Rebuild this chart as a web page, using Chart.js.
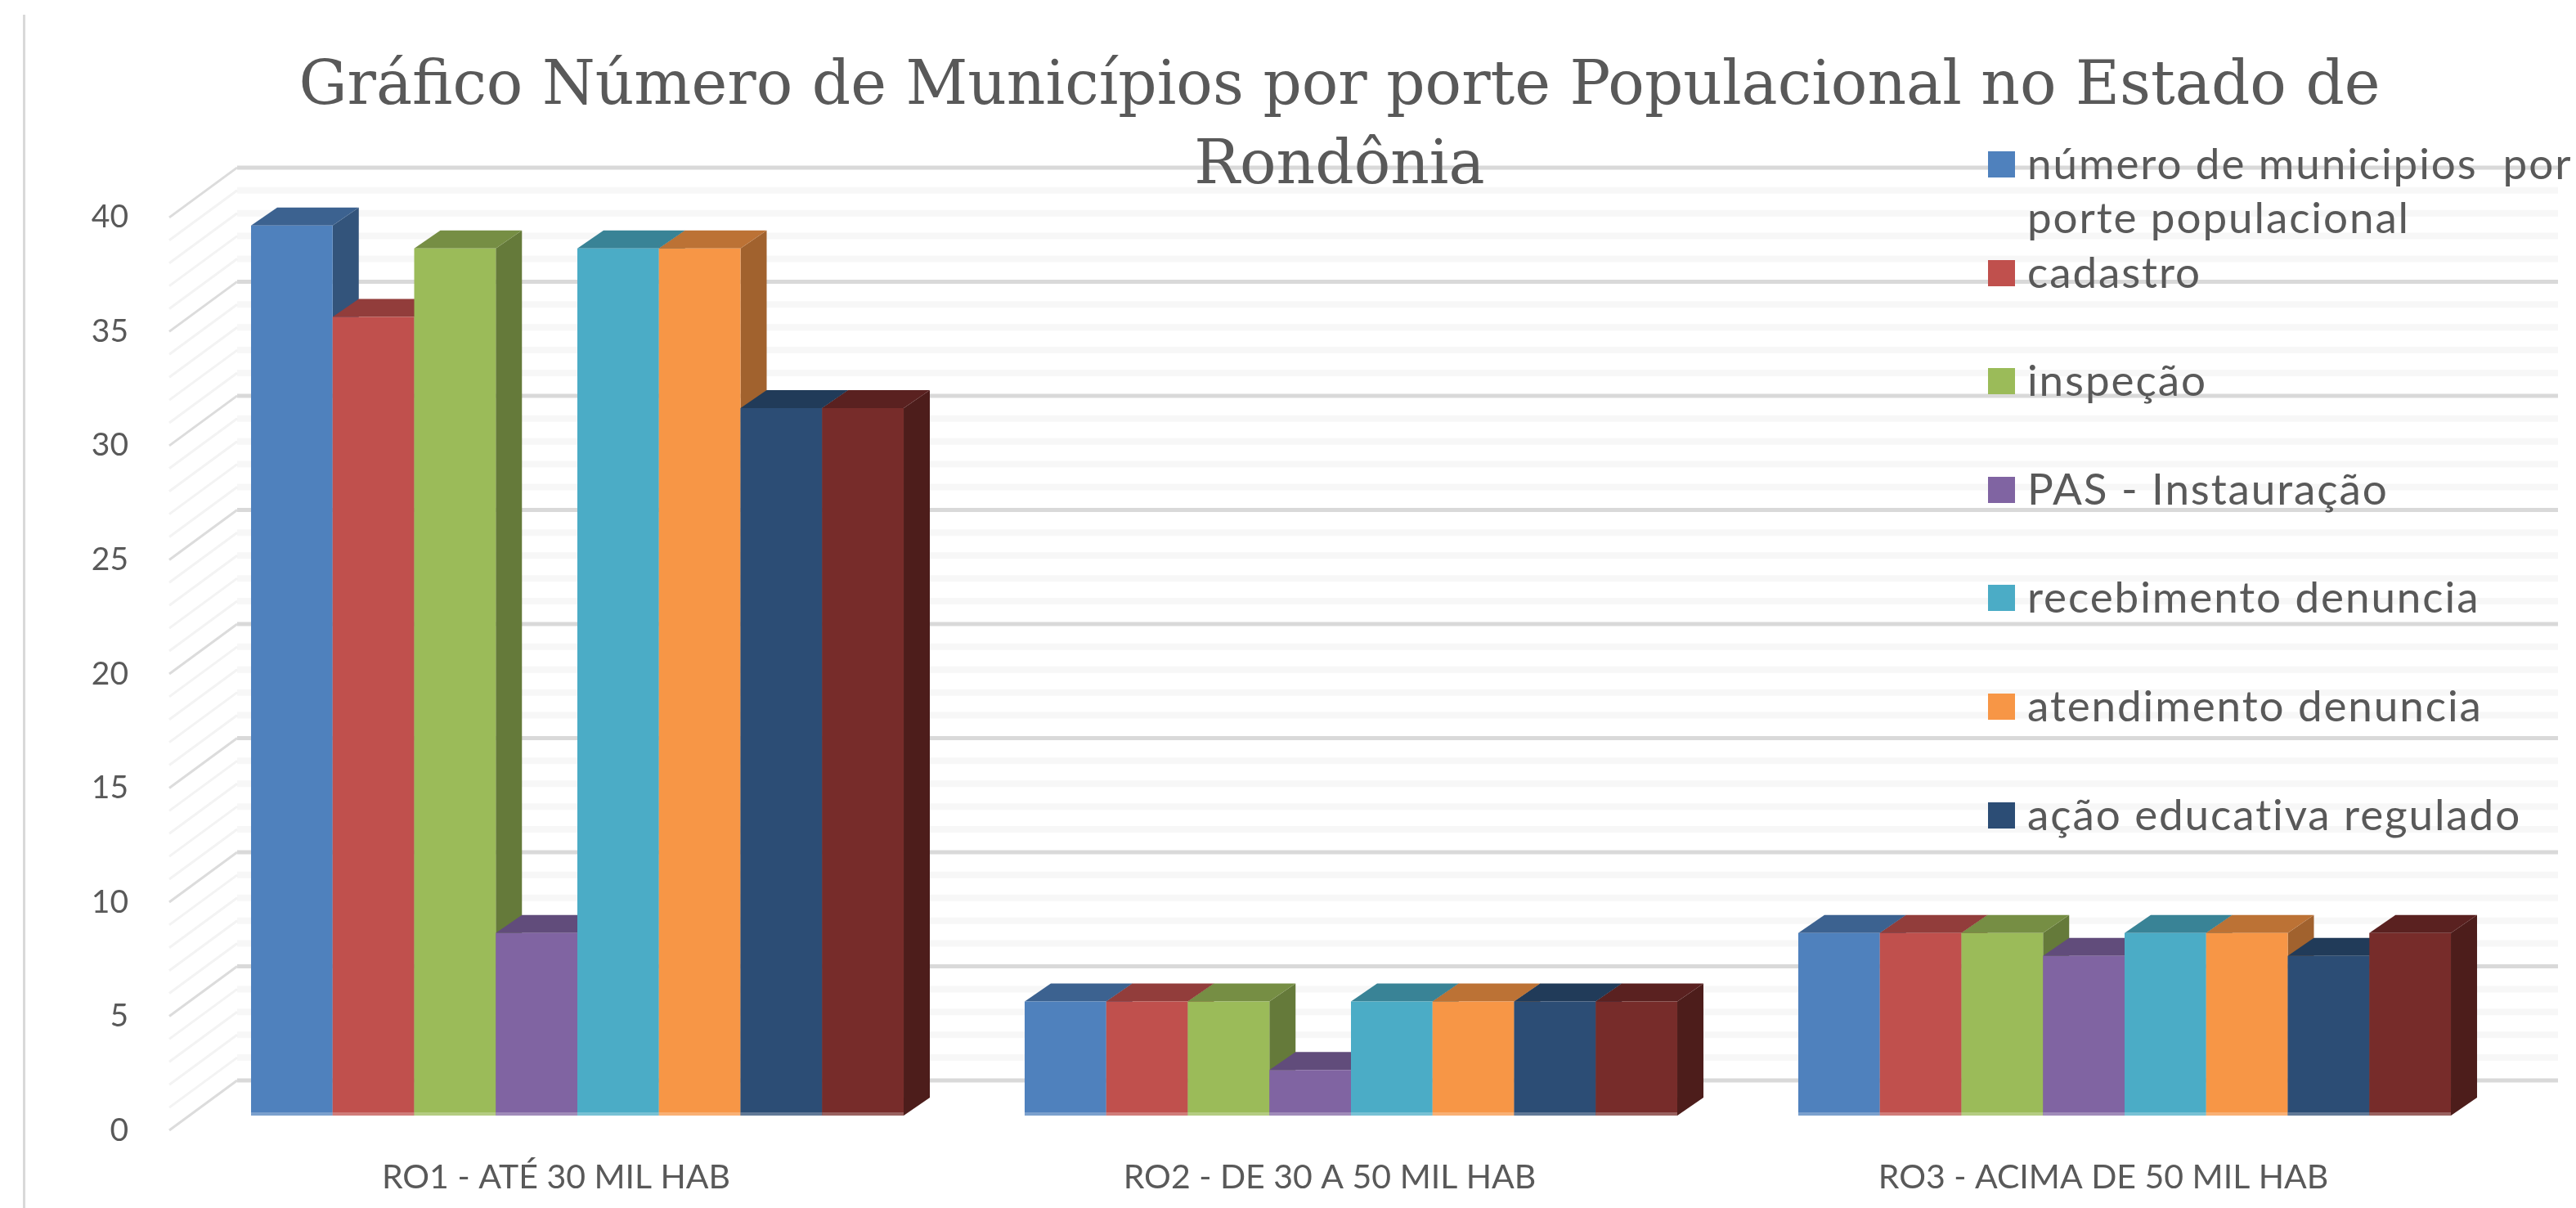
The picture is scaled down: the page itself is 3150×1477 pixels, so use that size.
<!DOCTYPE html>
<html lang="pt">
<head>
<meta charset="utf-8">
<title>Número de Municípios por porte Populacional</title>
<script src="https://cdn.jsdelivr.net/npm/chart.js@4/dist/chart.umd.min.js"></script>
<style>
  html, body { margin: 0; background: #fff; overflow: hidden; }
  #wrap { position: relative; width: 3150px; height: 1477px; }
  #legendBox { position: absolute; left: 2431px; top: 166px; font-family: Lato, sans-serif; font-size: 53px; letter-spacing: 1.9px; line-height: 66px; color: #595959; }
  .item { height: 132.6px; display: flex; white-space: pre; }
  .swatch { width: 33px; height: 32px; margin: 19px 15px 0 0; flex: none; }
</style>
</head>
<body>
<div id="wrap">
  <canvas id="chart" width="3150" height="1477"></canvas>
  <div id="legendBox"></div>
</div>
<script>
const categories = ['RO1 - ATÉ 30 MIL HAB', 'RO2 - DE 30 A 50 MIL HAB', 'RO3 - ACIMA DE 50 MIL HAB']
const chartTitle = ['Gráfico Número de Municípios por porte Populacional no Estado de', 'Rondônia']

// the 8th series has no name in the picture, its legend entry is cut off
const seriesNames = ['número de municipios  por\nporte populacional', 'cadastro', 'inspeção', 'PAS - Instauração', 'recebimento denuncia', 'atendimento denuncia', 'ação educativa regulado']
const numeroMunicipios = [39, 5, 8]
const cadastro = [35, 5, 8]
const inspecao = [38, 5, 8]
const pasInstauracao = [8, 2, 7]
const recebimentoDenuncia = [38, 5, 8]
const atendimentoDenuncia = [38, 5, 8]
const acaoEducativa = [31, 5, 7]
const semNome = [31, 5, 8]
const allSeries = [numeroMunicipios, cadastro, inspecao, pasInstauracao, recebimentoDenuncia, atendimentoDenuncia, acaoEducativa, semNome]
const colours = ['#4f81bd', '#c0504d', '#9bbb59', '#8064a2', '#4bacc6', '#f79646', '#2c4d75', '#772c2a']

// box geometry of the 3D look, px from the front plane of the axis
const wallDx = 83
const wallDy = -61
const barDx = 26
const barDy = -18
const depthDx = 32
const depthDy = -22

function shade(hex, f) {
    let n = parseInt(hex.slice(1), 16)
    return 'rgb(' + Math.round((n >> 16) * f) + ',' + Math.round(((n >> 8) & 255) * f) + ',' + Math.round((n & 255) * f) + ')'
}

function poly(ctx, pts, fill) {
    ctx.fillStyle = fill
    ctx.beginPath()
    pts.forEach((p, i) => i ? ctx.lineTo(p[0], p[1]) : ctx.moveTo(p[0], p[1]))
    ctx.closePath()
    ctx.fill()
}

const wallPlugin = {
    id: 'walls',
    afterLayout(chart) {
        // title is centred a bit right of the canvas middle
        chart.titleBlock.left = 126
        chart.titleBlock.right = 3150
    },
    beforeDraw(chart) {
        let ctx = chart.ctx
        let area = chart.chartArea
        let y = chart.scales.y
        ctx.save()
        ctx.fillStyle = '#d9d9d9'
        ctx.fillRect(28, 18, 3, 1459)
        for (let v = 0; v <= 40; v++) {
            let py = y.getPixelForValue(v)
            let major = v % 5 === 0
            ctx.strokeStyle = major ? '#d9d9d9' : '#f7f7f7'
            ctx.lineWidth = major ? 5 : 8
            ctx.beginPath()
            ctx.moveTo(area.left + wallDx, py + wallDy)
            ctx.lineTo(area.right + wallDx, py + wallDy)
            ctx.stroke()
            ctx.strokeStyle = major ? '#dcdcdc' : '#f3f3f3'
            ctx.lineWidth = 3
            ctx.beginPath()
            ctx.moveTo(area.left, py)
            ctx.lineTo(area.left + wallDx, py + wallDy)
            ctx.stroke()
        }
        ctx.restore()
    },
    beforeDatasetsDraw(chart) {
        let ctx = chart.ctx
        ctx.save()
        ctx.translate(barDx, barDy)
        // left to right so each bar hides the side of the one before it
        allSeries.forEach((s, i) => {
            let meta = chart.getDatasetMeta(i)
            meta.data.forEach((bar) => {
                let r = bar.x + bar.width / 2
                let l = bar.x - bar.width / 2
                poly(ctx, [[r, bar.y], [r + depthDx, bar.y + depthDy], [r + depthDx, bar.base + depthDy], [r, bar.base]], shade(colours[i], 0.65))
                poly(ctx, [[l, bar.y], [l + depthDx, bar.y + depthDy], [r + depthDx, bar.y + depthDy], [r, bar.y]], shade(colours[i], 0.76))
            })
            meta.controller.draw()
            meta.data.forEach((bar) => {
                ctx.fillStyle = 'rgba(255,255,255,0.25)'
                ctx.fillRect(bar.x - bar.width / 2, bar.base - 4, bar.width, 4)
            })
        })
        ctx.restore()
        return false
    }
}

const chart = new Chart(document.getElementById('chart'), {
    type: 'bar',
    data: {
        labels: categories,
        datasets: allSeries.map((s, i) => ({
            label: (seriesNames[i] || '').replace('\n', ' '),
            data: s,
            backgroundColor: colours[i],
            categoryPercentage: 0.8436,
            barPercentage: 1
        }))
    },
    options: {
        responsive: false,
        animation: false,
        layout: { padding: { left: 0, right: 105, top: 0, bottom: 0 } },
        plugins: {
            legend: { display: false },
            tooltip: { enabled: false },
            title: {
                display: true,
                text: chartTitle,
                color: '#595959',
                font: { family: '"DejaVu Serif", serif', size: 74, weight: 'normal', lineHeight: 1.31 },
                padding: { top: 59, bottom: 13 }
            }
        },
        scales: {
            x: {
                grid: { display: false },
                border: { display: false },
                ticks: { color: '#595959', padding: 25, maxRotation: 0, font: { family: 'Lato', size: 41 } },
                afterFit: (s) => { s.height = 95 }
            },
            y: {
                min: 0,
                max: 40,
                grid: { display: false, drawTicks: false },
                border: { display: false },
                ticks: { stepSize: 5, color: '#595959', padding: 50, font: { family: 'Lato', size: 39 } },
                afterFit: (s) => { s.width = 207 }
            }
        }
    },
    plugins: [wallPlugin]
})

// legend only lists the named series
const legendBox = document.getElementById('legendBox')
seriesNames.forEach((name, i) => {
    let row = document.createElement('div')
    row.className = 'item'
    let sw = document.createElement('span')
    sw.className = 'swatch'
    sw.style.background = colours[i]
    let txt = document.createElement('span')
    txt.textContent = name
    row.append(sw, txt)
    legendBox.append(row)
})
</script>
</body>
</html>
